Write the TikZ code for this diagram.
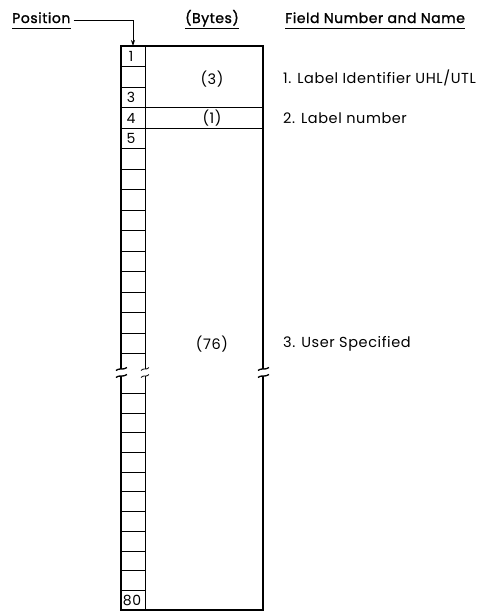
\documentclass[tikz,border=0pt]{standalone}
\usepackage{fontspec}
\setmainfont{Poppins}[LetterSpace=4]
\newfontfamily\headfont{Poppins}[LetterSpace=4, FakeBold=1.5]
\usetikzlibrary{arrows.meta}

\begin{document}
\begin{tikzpicture}[x=1pt, y=-1pt,
          frame/.style={line width=1.6pt},
          cell/.style={line width=0.8pt},
          brk/.style={line width=1.3pt},
          txt/.style={font=\fontsize{14.5}{17}\selectfont, inner sep=0pt},
          num/.style={font=\fontsize{14}{16}\selectfont, inner sep=0pt},
          head/.style={font=\headfont\fontsize{14}{16}\selectfont, inner sep=0pt},
          lead/.style={-{Stealth[length=6pt, width=4pt]}, line width=0.8pt}
        ]
        \useasboundingbox (0,0) rectangle (502,616);

        % headings
        \node[head, anchor=base west] (position) at (12,23) {Position};
        \node[head, anchor=base] (bytes) at (212,23) {(Bytes)};
        \node[head, anchor=base west] (field) at (285,23) {Field Number and Name};
        \draw[cell] (12,28) -- (position.east |- 0,28);
        \draw[cell] (bytes.west |- 0,28) -- (bytes.east |- 0,28);
        \draw[cell] (285,28) -- (field.east |- 0,28);

        % record frame
        \draw[frame] (121,369) -- (121,46) -- (263,46) -- (263,369);
        \draw[frame] (121,376) -- (121,610) -- (263,610) -- (263,376);
        \draw[cell] (145,46) -- (145,369);
        \draw[cell] (145,376) -- (145,610);

        % position cells
        \foreach \k in {1,2,5,6,...,15}
          \draw[cell] (121,46+20.5*\k) -- (145,46+20.5*\k);
        \draw[cell] (121,107.5) -- (263,107.5);
        \draw[cell] (121,128) -- (263,128);
        \foreach \k in {1,...,11}
          \draw[cell] (121,610-19.7*\k) -- (145,610-19.7*\k);

        % break marks
        \foreach \y in {369,376}{
          \draw[brk] (116,\y+1.5) .. controls (119,\y-1.5) and (123,\y+1.5) .. (127,\y-1.5);
          \draw[brk] (258,\y+1.5) .. controls (261,\y-1.5) and (265,\y+1.5) .. (269,\y-1.5);
          \draw[cell] (141,\y+1.5) .. controls (143,\y-1.5) and (147,\y+1.5) .. (149,\y-1.5);
        }

        \coordinate (top1) at (133,46);
        \draw[lead] ([xshift=3pt,yshift=-2.5pt]position.east) -| (top1);

        % position numbers
        \node[num] (p1) at (131,56) {1};
        \node[num] (p3) at (131,97.5) {3};
        \node[num] (p4) at (131,118) {4};
        \node[num] (p5) at (131,138.5) {5};
        \node[num] (p80) at (132,600) {80};

        % byte counts
        \node[txt] (b3) at (212,79) {(3)};
        \node[txt] (b1) at (212,118) {(1)};
        \node[txt] (b76) at (212,344) {(76)};

        % field names
        \node[txt, anchor=west] (f1) at (283,78) {1. Label Identifier UHL/UTL};
        \node[txt, anchor=west] (f2) at (283,118) {2. Label number};
        \node[txt, anchor=west] (f3) at (283,344) {3. User Specified};
      \end{tikzpicture}
\end{document}
